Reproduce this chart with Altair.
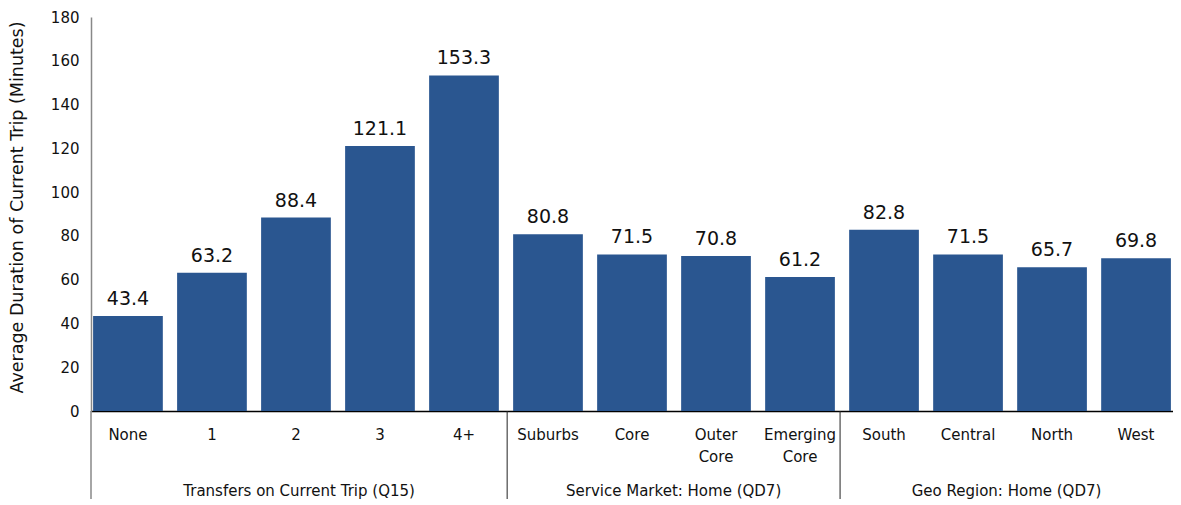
import altair as alt
import pandas as pd

categories = ["None", "1", "2", "3", "4+", "Suburbs", "Core", "Outer Core", "Emerging Core",
              "South", "Central", "North", "West"]
values = [43.4, 63.2, 88.4, 121.1, 153.3, 80.8, 71.5, 70.8, 61.2, 82.8, 71.5, 65.7, 69.8]
groups = ["Transfers on Current Trip (Q15)", "Service Market: Home (QD7)", "Geo Region: Home (QD7)"]
group_sizes = [5, 4, 4]

FONT = "DejaVu Sans"
W, H = 1082, 394
BLUE = "#2A5690"

df = pd.DataFrame({"cat": categories, "val": values})

starts = []
s = 0
for n in group_sizes:
    starts.append(s)
    s += n
gdf = pd.DataFrame({
    "group": groups,
    "center": [st + n / 2 for st, n in zip(starts, group_sizes)],
})
sep_df = pd.DataFrame({"pos": starts[1:]})

xenc = alt.X("cat:N", sort=categories, title=None,
             scale=alt.Scale(paddingInner=0.17, paddingOuter=0.025),
             axis=alt.Axis(labelAngle=0, labelExpr="split(datum.label, ' ')",
                           labelFont=FONT, labelFontSize=15, labelColor="#111",
                           labelLineHeight=22, labelPadding=16, ticks=False,
                           domainColor="#000", domainWidth=1.5, labelBaseline="top"))
yenc = alt.Y("val:Q", title="Average Duration of Current Trip (Minutes)",
             scale=alt.Scale(domain=[0, 180], nice=False),
             axis=alt.Axis(values=list(range(0, 181, 20)), grid=False, ticks=False,
                           labelFont=FONT, labelFontSize=15, labelColor="#111", labelPadding=12,
                           titleFont=FONT, titleFontSize=17.5, titleFontWeight="normal",
                           titleColor="#111", titlePadding=24, titleY=H / 2 - 7,
                           domainColor="#888", domainWidth=1.5))

base = alt.Chart(df)
bars = base.mark_bar(color=BLUE).encode(x=xenc, y=yenc)
labels = base.mark_text(baseline="bottom", dy=-7, font=FONT, fontSize=19, color="#111").encode(
    x=alt.X("cat:N", sort=categories), y=alt.Y("val:Q"), text=alt.Text("val:Q", format=".1f"))

main = alt.layer(bars, labels)

qx = alt.X("pos:Q", scale=alt.Scale(domain=[0, 13], nice=False, zero=False), axis=None)
seps = alt.Chart(sep_df).mark_rule(color="#222", strokeWidth=1).encode(
    x=qx, y=alt.value(H), y2=alt.value(H + 100))
yline = alt.Chart(pd.DataFrame({"pos": [0]})).mark_rule(color="#888", strokeWidth=1.5).encode(
    x=qx, y=alt.value(H), y2=alt.value(H + 100))
glabels = alt.Chart(gdf).mark_text(font=FONT, fontSize=15, color="#111", baseline="middle").encode(
    x=alt.X("center:Q", scale=alt.Scale(domain=[0, 13], nice=False, zero=False), axis=None),
    y=alt.value(H + 80), text="group:N")

chart = alt.layer(main, yline, seps, glabels).resolve_scale(x="independent").properties(
    width=W, height=H,
    autosize=alt.AutoSizeParams(type="none"),
    padding={"left": 83, "top": 9, "right": 0, "bottom": 88},
).configure_view(stroke=None)

chart.save("out.html", embed_options={"renderer": "svg", "actions": False})
